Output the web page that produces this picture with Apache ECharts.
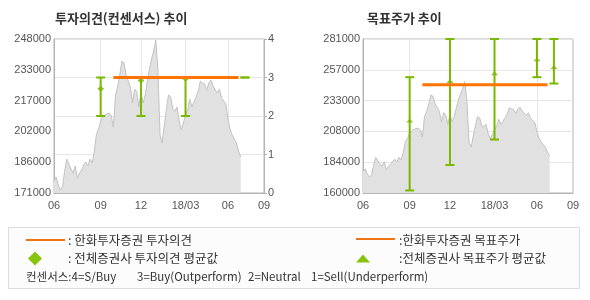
<!DOCTYPE html>
<html><head><meta charset="utf-8">
<script src="https://cdn.jsdelivr.net/npm/echarts@6/dist/echarts.min.js"></script>
<style>html,body{margin:0;padding:0;background:#fff}#c{width:590px;height:300px}</style>
</head><body><div id="c"></div>
<script>
// ---- data ----
const N = 100; // x positions (roughly every 3 trading days)
const tickIdx = [0, 22, 41, 62, 82, 99];
const tickLabels = ['06', '09', '12', '18/03', '06', '09'];
const prices = [
  177000, 179000, 175000, 172500, 174000, 181800, 188000, 185500, 183000, 181000,
  184500, 178500, 181000, 182500, 185000, 186500, 184500, 188000, 186000, 192000,
  200500, 203000, 207000, 209000, 210000, 210500, 211000, 209500, 204000, 220000,
  224000, 230000, 237000, 236000, 230000, 227000, 224000, 216000, 223000, 221500,
  214000, 222000, 216000, 220000, 227000, 233000, 238000, 242000, 247500, 232000,
  200000, 196000, 205000, 213000, 220000, 219000, 213000, 212000, 214000, 207000,
  202500, 206000, 210000, 212500, 218000, 214000, 216500, 219000, 222000, 227000,
  226000, 225500, 222500, 226000, 227500, 224500, 222500, 221000, 223000, 218500,
  217000, 215500, 208000, 203000, 200000, 198000, 196000, 192000, 189000
];
const opinionFrom = 28, opinionTo = 87, opinionValue = 3;       // 한화투자증권 투자의견 (3 = Buy)
const targetFrom = 28, targetTo = 87, targetValue = 245000;     // 한화투자증권 목표주가
const consIdx = [22, 41, 62, 82, 90];
const opMin = [2, 2, 2, 3, 3];
const opMax = [3, 3, 3, 3, 3];
const opAvg = [2.71, 2.92, 2.97, null, null];
const tpMin = [162000, 182000, 202000, 251000, 246000];
const tpMax = [251000, 281000, 281000, 281000, 281000];
const tpAvg = [217000, 248000, 254000, 265000, 259000];
const leftPriceTicks = ['171000', '186000', '202000', '217000', '233000', '248000'];
const rightPriceTicks = ['160000', '184000', '208000', '233000', '257000', '281000'];
const opinionTicks = ['0', '1', '2', '3', '4'];

// ---- build ----
const cats = Array.from({length: N}, (_, i) => String(i));
const labelAt = {};
tickIdx.forEach((t, k) => labelAt[t] = tickLabels[k]);
const GREEN = '#7ab800', ORANGE = '#ff7300', AXIS = '#b4b4b4', GRID = '#e6e6e6', TXT = '#555';
const FONT = 'Liberation Sans';

function xAxis(gi) {
  return {
    type: 'category', gridIndex: gi, data: cats, boundaryGap: false,
    axisLine: {lineStyle: {color: AXIS}},
    axisTick: {show: false},
    axisLabel: {interval: (i) => labelAt[i] !== undefined, formatter: (v, i) => labelAt[+v] || '',
      color: TXT, fontFamily: FONT, fontSize: 11, margin: 7},
    splitLine: {show: true, interval: (i) => labelAt[i] !== undefined && i !== 0 && i !== N - 1,
      lineStyle: {color: GRID}}
  };
}
function errRender(lineColor) {
  return function (params, api) {
    const x = api.value(0), lo = api.value(1), hi = api.value(2);
    const a = api.coord([x, lo]), b = api.coord([x, hi]);
    const hw = 4.5;
    const st = {stroke: lineColor, lineWidth: 2};
    const ch = [
      {type: 'line', shape: {x1: a[0] - hw, y1: a[1], x2: a[0] + hw, y2: a[1]}, style: st},
      {type: 'line', shape: {x1: b[0] - hw, y1: b[1], x2: b[0] + hw, y2: b[1]}, style: st}
    ];
    if (Math.abs(a[1] - b[1]) > 0.5)
      ch.push({type: 'line', shape: {x1: a[0], y1: a[1], x2: b[0], y2: b[1]}, style: st});
    return {type: 'group', children: ch};
  };
}
const priceData = prices.map((p, i) => [i, p]);
const opLine = [[opinionFrom, opinionValue], [opinionTo, opinionValue]];
const tpLine = [[targetFrom, targetValue], [targetTo, targetValue]];
const opErr = consIdx.map((x, k) => [x, opMin[k], opMax[k]]);
const tpErr = consIdx.map((x, k) => [x, tpMin[k], tpMax[k]]);
const opAvgData = consIdx.map((x, k) => opAvg[k] == null ? null : [x, opAvg[k]]).filter(Boolean);
const tpAvgData = consIdx.map((x, k) => [x, tpAvg[k]]);

const areaStyle = {color: '#e1e1e1', opacity: 1};
const priceLine = {color: '#c2c2c2', width: 1};
const LF = '12.5px "Noto Sans CJK KR"';
const BF = '11.5px "Noto Sans CJK KR"';

const option = {
  animation: false,
  grid: [
    {left: 54, top: 39, width: 210, height: 154, show: true, borderColor: AXIS, borderWidth: 1},
    {left: 363, top: 39, width: 210, height: 154, show: true, borderColor: AXIS, borderWidth: 1}
  ],
  xAxis: [xAxis(0), xAxis(1)],
  yAxis: [
    {type: 'value', gridIndex: 0, min: 171000, max: 248000, interval: 15400,
      axisLine: {show: true, lineStyle: {color: AXIS}}, axisTick: {show: false}, splitLine: {show: false},
      axisLabel: {formatter: (v, i) => leftPriceTicks[i], color: TXT, fontFamily: FONT, fontSize: 11, margin: 3}},
    {type: 'value', gridIndex: 0, position: 'right', min: 0, max: 4, interval: 1,
      axisLine: {show: true, lineStyle: {color: AXIS}},
      axisTick: {show: true, length: 3, lineStyle: {color: AXIS}},
      splitLine: {show: true, lineStyle: {color: GRID}},
      axisLabel: {formatter: (v, i) => opinionTicks[i], color: TXT, fontFamily: FONT, fontSize: 11, margin: 4}},
    {type: 'value', gridIndex: 1, min: 160000, max: 281000, interval: 24200,
      axisLine: {show: true, lineStyle: {color: AXIS}}, axisTick: {show: false},
      splitLine: {show: true, lineStyle: {color: GRID}},
      axisLabel: {formatter: (v, i) => rightPriceTicks[i], color: TXT, fontFamily: FONT, fontSize: 11, margin: 3}}
  ],
  series: [
    {type: 'line', xAxisIndex: 0, yAxisIndex: 0, data: priceData, symbol: 'none', lineStyle: priceLine, areaStyle, z: 1},
    {type: 'custom', xAxisIndex: 0, yAxisIndex: 1, data: opErr, renderItem: errRender(GREEN), encode: {x: 0, y: [1, 2]}, z: 2},
    {type: 'scatter', xAxisIndex: 0, yAxisIndex: 1, data: opAvgData, symbol: 'diamond', symbolSize: [7, 6], itemStyle: {color: GREEN}, z: 3},
    {type: 'line', xAxisIndex: 0, yAxisIndex: 1, data: opLine, symbol: 'none', lineStyle: {color: ORANGE, width: 3}, z: 4},

    {type: 'line', xAxisIndex: 1, yAxisIndex: 2, data: priceData, symbol: 'none', lineStyle: priceLine, areaStyle, z: 1},
    {type: 'custom', xAxisIndex: 1, yAxisIndex: 2, data: tpErr, renderItem: errRender(GREEN), encode: {x: 0, y: [1, 2]}, z: 2},
    {type: 'line', xAxisIndex: 1, yAxisIndex: 2, data: tpLine, symbol: 'none', lineStyle: {color: ORANGE, width: 3}, z: 3},
    {type: 'scatter', xAxisIndex: 1, yAxisIndex: 2, data: tpAvgData, symbol: 'triangle', symbolSize: [7, 4], itemStyle: {color: GREEN}, z: 4}
  ],
  graphic: [
    {type: 'text', left: 55, top: 12, style: {text: '투자의견(컨센서스) 추이', font: 'bold 13px "Noto Sans CJK KR"', fill: '#333'}},
    {type: 'text', left: 367, top: 12, style: {text: '목표주가 추이', font: 'bold 13px "Noto Sans CJK KR"', fill: '#333'}},
    {type: 'rect', shape: {x: 8.5, y: 227.5, width: 571, height: 61}, style: {fill: '#fcfcfc', stroke: '#dcdcdc', lineWidth: 1}, z: -1},
    {type: 'line', shape: {x1: 26, y1: 240, x2: 65, y2: 240}, style: {stroke: '#ee7311', lineWidth: 2}},
    {type: 'polygon', shape: {points: [[35, 251.5], [42, 258.5], [35, 265.5], [28, 258.5]]}, style: {fill: '#86c40e'}},
    {type: 'line', shape: {x1: 356, y1: 239, x2: 395, y2: 239}, style: {stroke: '#ee7311', lineWidth: 2}},
    {type: 'polygon', shape: {points: [[363, 254.5], [370, 262.5], [356, 262.5]]}, style: {fill: '#86c40e'}},
    {type: 'text', x: 68, y: 240, style: {text: ': 한화투자증권 투자의견', font: LF, fill: '#333', verticalAlign: 'middle'}},
    {type: 'text', x: 68, y: 258, style: {text: ': 전체증권사 투자의견 평균값', font: LF, fill: '#333', verticalAlign: 'middle'}},
    {type: 'text', x: 399, y: 240, style: {text: ':한화투자증권 목표주가', font: LF, fill: '#333', verticalAlign: 'middle'}},
    {type: 'text', x: 399, y: 258, style: {text: ':전체증권사 목표주가 평균값', font: LF, fill: '#333', verticalAlign: 'middle'}},
    {type: 'text', x: 26, y: 277, style: {text: '컨센서스:4=S/Buy', font: BF, fill: '#333', verticalAlign: 'middle'}},
    {type: 'text', x: 137, y: 277, style: {text: '3=Buy(Outperform)', font: BF, fill: '#333', verticalAlign: 'middle'}},
    {type: 'text', x: 248, y: 277, style: {text: '2=Neutral', font: BF, fill: '#333', verticalAlign: 'middle'}},
    {type: 'text', x: 311, y: 277, style: {text: '1=Sell(Underperform)', font: BF, fill: '#333', verticalAlign: 'middle'}}
  ]
};
const chart = echarts.init(document.getElementById('c'), null, {renderer: 'canvas'});
chart.setOption(option);
</script>
</body></html>
